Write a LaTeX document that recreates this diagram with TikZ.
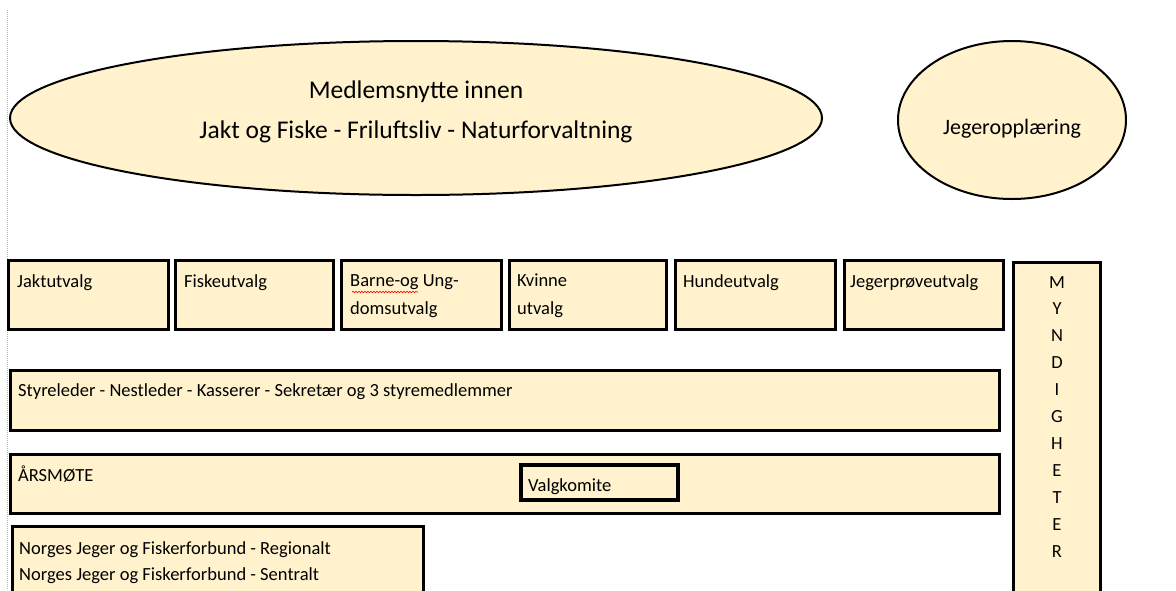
\documentclass[tikz,border=0pt]{standalone}
\usepackage{fontspec}
\setmainfont{Carlito}
\usetikzlibrary{shapes.geometric,decorations.pathmorphing}
\definecolor{paper}{RGB}{255,242,204}
\definecolor{margin}{RGB}{150,190,235}
\tikzset{
	box/.style={draw=black, line width=3pt, fill=paper},
	thickbox/.style={draw=black, line width=4.5pt, fill=paper},
	oval/.style={ellipse, draw=black, line width=2pt, fill=paper, inner sep=0pt},
	lbl/.style={inner sep=0pt, font=\fontsize{18.5}{28}\selectfont, anchor=base west},
	twolbl/.style={inner sep=0pt, font=\fontsize{18.5}{28}\selectfont, align=left, anchor=north west}
}

\begin{document}
\begin{tikzpicture}[x=1pt,y=-1pt]
				\useasboundingbox (0,0) rectangle (1176,590);
				\draw[margin, densely dotted, line width=1pt] (7,10) -- (7,590);
				
				\node[oval, minimum width=812pt, minimum height=154pt] (nytte) at (416,118) {};
				\node[align=center, inner sep=0pt, font=\fontsize{25.5}{40}\selectfont] (nyttetxt) at (416,112) {Medlemsnytte innen\\Jakt og Fiske - Friluftsliv - Naturforvaltning};
				
				\node[oval, minimum width=228pt, minimum height=158pt] (opplaering) at (1012,120) {};
				\node[inner sep=0pt, font=\fontsize{22}{26}\selectfont] (opplaeringtxt) at (1012,129) {Jegeropplæring};
				
				\draw[box] (8,260) rectangle (168,329);
				\node[lbl] (jakt) at (17,287) {Jaktutvalg};
				\draw[box] (175,260) rectangle (333,329);
				\node[lbl] (fiske) at (184,287) {Fiskeutvalg};
				\draw[box] (341,260) rectangle (501,329);
				\node[twolbl] (barne) at (350,274) {Barne-og Ung-\\domsutvalg};
				\draw[red, line width=0.6pt, decorate, decoration={snake, amplitude=0.8pt, segment length=3pt}] (352,292) -- (418,292);
				\draw[box] (509,260) rectangle (666,329);
				\node[twolbl] (kvinne) at (517,274) {Kvinne\\utvalg};
				\draw[box] (675,260) rectangle (835,329);
				\node[lbl] (hunde) at (683,287) {Hundeutvalg};
				\draw[box] (844,260) rectangle (1003,329);
				\node[lbl] (jegerprove) at (850,287) {Jegerprøveutvalg};
				
				\draw[box] (1013,262) rectangle (1100,600);
				\node[align=center, inner sep=0pt, anchor=north, font=\fontsize{18.5}{26.9}\selectfont] (myndigheter) at (1057,276) {M\\Y\\N\\D\\I\\G\\H\\E\\T\\E\\R};
				
				\draw[box] (10,370) rectangle (999,430);
				\node[lbl] (styret) at (18,396) {Styreleder - Nestleder - Kasserer - Sekretær og 3 styremedlemmer};
				
				\draw[box] (10,454) rectangle (999,513);
				\node[lbl] (aarsmote) at (18,481) {ÅRSMØTE};
				\draw[thickbox] (521,465) rectangle (678,500);
				\node[lbl] (valgkomite) at (528,491) {Valgkomite};
				
				\draw[box] (12,526) rectangle (423,600);
				\node[twolbl, font=\fontsize{18.5}{26}\selectfont] (njff) at (19,541) {Norges Jeger og Fiskerforbund - Regionalt\\Norges Jeger og Fiskerforbund - Sentralt};
			\end{tikzpicture}
\end{document}
